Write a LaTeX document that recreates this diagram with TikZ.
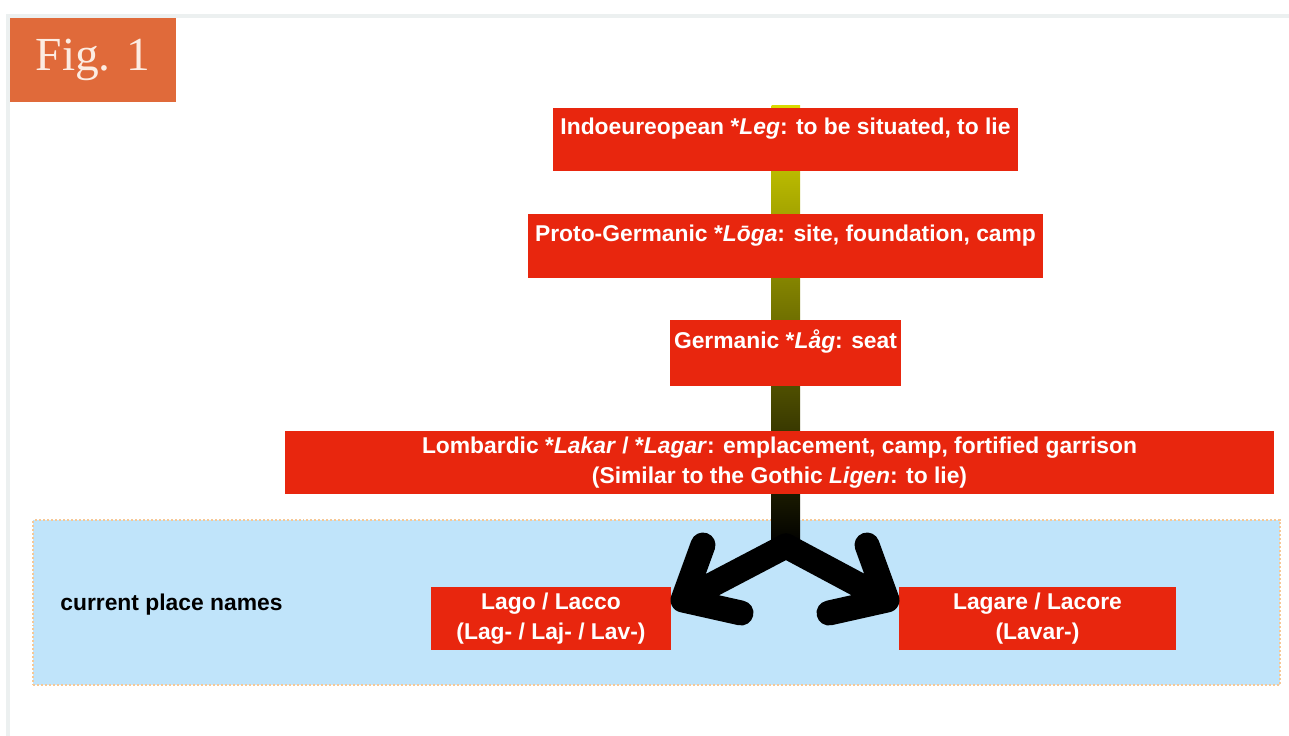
\documentclass[tikz,border=0pt]{standalone}
\usepackage{fontspec}
\setmainfont{Liberation Sans}
\newfontfamily\figfont{Liberation Serif}
\usepackage{xcolor}
\definecolor{boxred}{RGB}{232,38,14}
\definecolor{figorange}{RGB}{224,106,58}
\definecolor{figtext}{RGB}{252,236,226}
\definecolor{placeblue}{RGB}{192,228,250}
\definecolor{dotpeach}{RGB}{246,200,150}
\definecolor{stemtop}{RGB}{218,218,0}
\definecolor{framegray}{RGB}{236,240,240}
\usepackage{tikz}
\usetikzlibrary{
  positioning,
  calc
}
\pgfdeclarelayer{back}
\pgfsetlayers{back,main}

\begin{document}
\begin{tikzpicture}[
  x=0.02cm, y=-0.02cm,
  node distance=0.84cm,
  every node/.style={font=\bfseries\fontsize{13}{17}\selectfont},
  etym/.style={fill=boxred, text=white, align=center, inner sep=0pt, minimum height=1.26cm},
  fork/.style={line width=0.5cm, line cap=round, line join=round, black}
]
  \useasboundingbox (0,0) rectangle (1289,736);
  % card edge
  \draw[line width=0.07cm, framegray] (8,760) |- (1300,16);

  \node[fill=figorange, text=figtext, minimum width=3.32cm, minimum height=1.68cm, font=\figfont\fontsize{27}{30}\selectfont] (fig) at (93,60) {Fig. 1};

  % etymology chain
  \node[etym, minimum width=9.3cm] (leg) at (785.5,139.5) {Indoeureopean *\textit{Leg}: to be situated, to lie\strut\\[-5pt]\strut};
  \node[etym, minimum width=10.32cm, minimum height=1.28cm, below=of leg] (loga) {Proto-Germanic *\textit{Lōga}: site, foundation, camp\strut\\[-5pt]\strut};
  \node[etym, minimum width=4.62cm, minimum height=1.32cm, below=of loga] (lag) {Germanic *\textit{Låg}: seat\strut\\[-5pt]\strut};
  \node[etym, minimum width=19.8cm, below=0.88cm of lag, xshift=-0.12cm] (lakar) {Lombardic *\textit{Lakar} / *\textit{Lagar}: emplacement, camp, fortified garrison\strut\\(Similar to the Gothic \textit{Ligen}: to lie)\strut};

  % place names
  \node[anchor=west, inner sep=0pt] (places) at (60,605) {current place names};
  \node[etym, minimum width=4.8cm] (lago) at (551,618.5) {Lago / Lacco\strut\\(Lag- / Laj- / Lav-)\strut};
  \node[etym, minimum width=5.54cm] (lagare) at (1037.5,618.5) {Lagare / Lacore\strut\\(Lavar-)\strut};

  % split into two branches
  \coordinate (split) at (786,546);
  \coordinate (tipL) at (683,600);
  \coordinate (tipR) at (887,600);

  \begin{pgfonlayer}{back}
    \node[fill=placeblue, draw=dotpeach, line width=0.04cm, dash pattern=on 0.04cm off 0.04cm, minimum width=24.94cm, minimum height=3.3cm] (region) at (656.5,602.5) {};
    \shade[top color=stemtop, bottom color=black] ($(leg.north)+(-14,-2)$) rectangle ($(split)+(14,0)$);
  \end{pgfonlayer}

  \draw[fork] (split) -- (tipL) (tipL) ++(20,-55) -- (tipL) -- ++(58,13);
  \draw[fork] (split) -- (tipR) (tipR) ++(-20,-55) -- (tipR) -- ++(-58,13);

\end{tikzpicture}
\end{document}
